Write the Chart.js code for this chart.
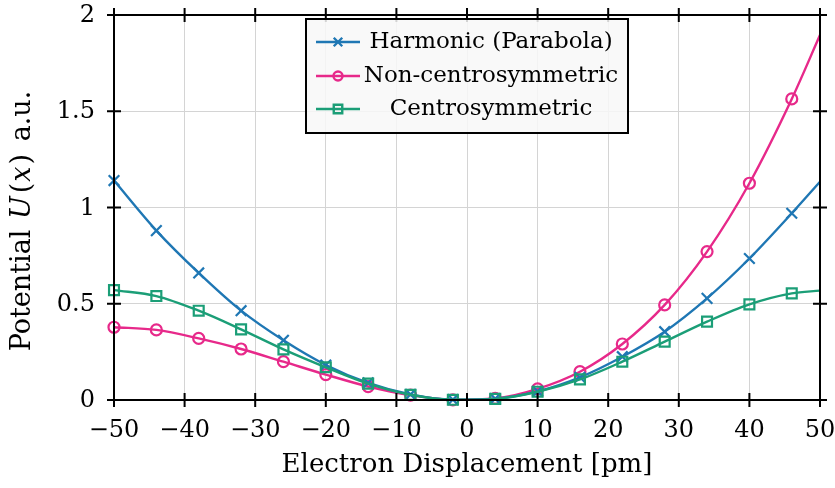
<!DOCTYPE html>
<html>
<head>
<meta charset="utf-8">
<style>
  html, body { margin: 0; padding: 0; background: #fff; }
  #wrap { width: 835px; height: 488px; }
</style>
</head>
<body>
<div id="wrap"><canvas id="potentialChart" width="835" height="488"></canvas></div>

<script src="https://cdn.jsdelivr.net/npm/chart.js@4.4.0/dist/chart.umd.min.js"></script>
<script>
// displacement in pm (markers every 6 pm, last point only closes the curve)
var displacement = [-50, -44, -38, -32, -26, -20, -14, -8, -2, 4, 10, 16, 22, 28, 34, 40, 46, 50];
var harmonic     = [1.14, 0.88, 0.66, 0.464, 0.31, 0.182, 0.089, 0.029, 0.002, 0.007, 0.045, 0.118, 0.225, 0.355, 0.528, 0.735, 0.97, 1.134];
var nonCentro    = [0.378, 0.364, 0.32, 0.265, 0.199, 0.132, 0.07, 0.025, 0.001, 0.008, 0.058, 0.147, 0.291, 0.494, 0.771, 1.126, 1.564, 1.896];
var centro       = [0.571, 0.54, 0.464, 0.367, 0.263, 0.17, 0.085, 0.027, 0.001, 0.006, 0.043, 0.107, 0.199, 0.303, 0.407, 0.497, 0.554, 0.568];
var seriesNames  = ['Harmonic (Parabola)', 'Non-centrosymmetric', 'Centrosymmetric'];
var xTicks = [-50, -40, -30, -20, -10, 0, 10, 20, 30, 40, 50];
var yTicks = [0, 0.5, 1, 1.5, 2];

var BLUE = '#1f77b4', PINK = '#e7298a', GREEN = '#1b9e77';
var FONT = "'DejaVu Serif', serif";

function toPoints(ys) {
    return displacement.map(function(x, i) { return { x: x, y: ys[i] }; });
}
function markerRadius(r) {
    return function(ctx) { return ctx.dataIndex === displacement.length - 1 ? 0 : r; };
}
function tickText(v) {
    return v < 0 ? '\u2212' + Math.abs(v) : String(v);
}

// frame, crossing ticks, tick labels, axis titles and the boxed legend
var decorations = {
    id: 'decorations',
    afterDatasetsDraw: function(chart) {
        var c = chart.ctx, a = chart.chartArea;
        var xs = chart.scales.x, ys = chart.scales.y;
        c.save();
        c.strokeStyle = '#000';
        c.lineWidth = 2;
        c.strokeRect(a.left, a.top, a.right - a.left, a.bottom - a.top);
        c.beginPath();
        xTicks.forEach(function(v) {
            var px = xs.getPixelForValue(v);
            c.moveTo(px, a.bottom - 7); c.lineTo(px, a.bottom + 7);
            c.moveTo(px, a.top - 7); c.lineTo(px, a.top + 7);
        });
        yTicks.forEach(function(v) {
            var py = ys.getPixelForValue(v);
            c.moveTo(a.left - 7, py); c.lineTo(a.left + 7, py);
            c.moveTo(a.right - 7, py); c.lineTo(a.right + 7, py);
        });
        c.stroke();

        // tick labels
        c.fillStyle = '#000';
        c.font = '24px ' + FONT;
        c.textBaseline = 'middle';
        c.textAlign = 'center';
        xTicks.forEach(function(v) {
            c.fillText(tickText(v), xs.getPixelForValue(v), a.bottom + 31);
        });
        c.textAlign = 'right';
        yTicks.forEach(function(v) {
            c.fillText(tickText(v), a.left - 19, ys.getPixelForValue(v) + 1);
        });

        // x title
        c.font = '26px ' + FONT;
        c.textAlign = 'center';
        c.fillText('Electron Displacement [pm]', (a.left + a.right) / 2, 465);

        // y title with math italics (small gaps mimic math spacing)
        var parts = [['Potential ', '', 2], ['U', 'italic ', 3], ['(', '', 1], ['x', 'italic ', 2], [')', '', 4], [' a.u.', '', 0]];
        var total = 0;
        parts.forEach(function(p) {
            c.font = p[1] + '27px ' + FONT;
            p.push(c.measureText(p[0]).width + p[2]);
            total += p[3];
        });
        c.translate(23, 221);
        c.rotate(-Math.PI / 2);
        c.textAlign = 'left';
        var cx = -total / 2;
        parts.forEach(function(p) { c.font = p[1] + '27px ' + FONT; c.fillText(p[0], cx, 0); cx += p[3]; });
        c.restore();

        // legend
        c.save();
        c.fillStyle = 'rgba(248,248,248,0.85)';
        c.fillRect(306, 19, 322, 114);
        c.lineWidth = 2;
        c.strokeStyle = '#000';
        c.strokeRect(306, 19, 322, 114);
        var rows = [42, 76, 109];
        chart.data.datasets.forEach(function(ds, i) {
            var y = rows[i];
            c.strokeStyle = ds.borderColor;
            c.fillStyle = 'rgba(0,0,0,0)';
            c.lineWidth = 2.4;
            c.beginPath(); c.moveTo(316, y); c.lineTo(360, y); c.stroke();
            Chart.helpers.drawPoint(c, {
                pointStyle: ds.pointStyle, radius: ds.legendRadius, borderWidth: 2
            }, 338, y);
            c.fillStyle = '#000';
            c.font = '23px ' + FONT;
            c.textAlign = 'center';
            c.textBaseline = 'middle';
            c.fillText(ds.label, 491, y);
        });
        c.restore();
    }
};

document.addEventListener('DOMContentLoaded', function() {
    var ctx = document.getElementById('potentialChart').getContext('2d');
    new Chart(ctx, {
        type: 'line',
        data: {
            datasets: [{
                label: seriesNames[0],
                data: toPoints(harmonic),
                borderColor: BLUE,
                backgroundColor: 'transparent',
                pointStyle: 'crossRot',
                pointRadius: markerRadius(7.5),
                legendRadius: 6,
                order: 2
            }, {
                label: seriesNames[1],
                data: toPoints(nonCentro),
                borderColor: PINK,
                backgroundColor: 'transparent',
                pointStyle: 'circle',
                pointRadius: markerRadius(5.5),
                legendRadius: 4.5,
                order: 3
            }, {
                label: seriesNames[2],
                data: toPoints(centro),
                borderColor: GREEN,
                backgroundColor: 'transparent',
                pointStyle: 'rect',
                pointRadius: markerRadius(7),
                legendRadius: 6,
                order: 1
            }]
        },
        options: {
            responsive: false,
            animation: false,
            clip: false,
            layout: { padding: { top: 15, right: 15, left: 0, bottom: 0 } },
            elements: {
                line: { borderWidth: 2.4, cubicInterpolationMode: 'monotone' },
                point: { borderWidth: 2.2, hoverRadius: 5 }
            },
            plugins: { legend: { display: false }, tooltip: { enabled: false } },
            scales: {
                x: {
                    type: 'linear', min: -50, max: 50,
                    afterFit: function(s) { s.height = 88; },
                    afterBuildTicks: function(s) { s.ticks = xTicks.map(function(v) { return { value: v }; }); },
                    ticks: { display: false },
                    grid: { color: '#d4d4d4', lineWidth: 1, drawTicks: false },
                    border: { display: false }
                },
                y: {
                    type: 'linear', min: 0, max: 2,
                    afterFit: function(s) { s.width = 114; },
                    afterBuildTicks: function(s) { s.ticks = yTicks.map(function(v) { return { value: v }; }); },
                    ticks: { display: false },
                    grid: { color: '#d4d4d4', lineWidth: 1, drawTicks: false },
                    border: { display: false }
                }
            }
        },
        plugins: [decorations]
    });
});
</script>
</body>
</html>
